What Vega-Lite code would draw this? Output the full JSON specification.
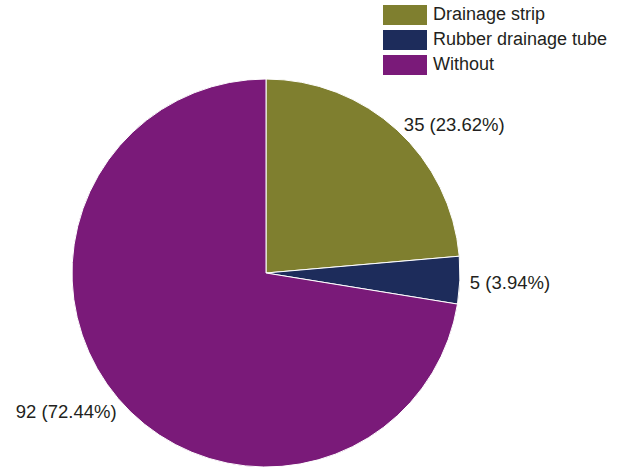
{
  "$schema": "https://vega.github.io/schema/vega-lite/v6.json",
  "width": 532,
  "height": 388,
  "autosize": {"type": "none"},
  "padding": {"left": 0, "top": 79, "right": 95, "bottom": 0},
  "background": "white",
  "data": {
    "values": [
      {"category": "Drainage strip", "share": 23.62, "label": "35 (23.62%)"},
      {"category": "Rubber drainage tube", "share": 3.94, "label": "5 (3.94%)"},
      {"category": "Without", "share": 72.44, "label": "92 (72.44%)"}
    ]
  },
  "config": {"view": {"stroke": null}, "font": "Liberation Sans"},
  "layer": [
    {
      "mark": {"type": "arc", "outerRadius": 194, "stroke": "white", "strokeWidth": 1},
      "encoding": {
        "theta": {"field": "share", "type": "quantitative", "stack": true},
        "order": {"field": "category", "sort": "ascending"},
        "color": {
          "field": "category",
          "type": "nominal",
          "scale": {
            "domain": ["Drainage strip", "Rubber drainage tube", "Without"],
            "range": ["#7f7f2f", "#1d2c5b", "#7a1a79"]
          },
          "legend": {
            "title": null,
            "orient": "none",
            "legendX": 395,
            "legendY": -74,
            "symbolType": "M-2.2,-1H2.2V1H-2.2Z",
            "symbolSize": 400,
            "symbolStrokeWidth": 0,
            "symbolOpacity": 1,
            "labelFontSize": 18,
            "labelColor": "#231f20",
            "labelOffset": 18,
            "rowPadding": 5,
            "labelLimit": 300
          }
        }
      }
    },
    {
      "mark": {
        "type": "text",
        "radius": 204,
        "fontSize": 18.5,
        "color": "#231f20",
        "baseline": "middle",
        "align": {"expr": "datum.category == 'Without' ? 'right' : 'left'"},
        "dy": {"expr": "datum.category == 'Without' ? 7 : 2"},
        "dx": {"expr": "datum.category == 'Without' ? 6 : 0"}
      },
      "encoding": {
        "theta": {"field": "share", "type": "quantitative", "stack": true},
        "order": {"field": "category", "sort": "ascending"},
        "text": {"field": "label"}
      }
    }
  ]
}
